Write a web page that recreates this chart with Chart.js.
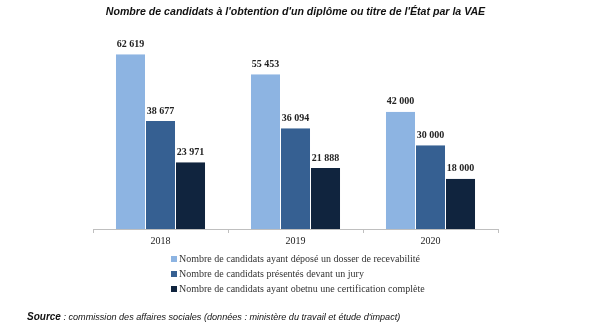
<!DOCTYPE html>
<html><head><meta charset="utf-8">
<script src="https://cdn.jsdelivr.net/npm/chart.js@4.4.0/dist/chart.umd.min.js"></script>
<style>
html,body{margin:0;padding:0;background:#fff;}
#wrap{position:relative;width:600px;height:325px;overflow:hidden;}
canvas{position:absolute;left:0;top:0;}
#legend{position:absolute;left:171px;top:251px;font-family:"Liberation Serif",serif;font-size:10px;color:#333;}
#legend div{height:15px;line-height:15px;white-space:nowrap;}
#legend span.box{display:inline-block;width:6px;height:6px;margin-right:2px;vertical-align:0px;}
#source{position:absolute;left:27px;top:311px;font-family:"Liberation Sans",Arial,sans-serif;font-size:9.1px;font-style:italic;color:#111;white-space:nowrap;}
</style></head>
<body><div id="wrap"><canvas id="c" width="600" height="325"></canvas><div id="legend"></div><div id="source"><b style="font-size:10px">Source</b> : commission des affaires sociales (données : ministère du travail et étude d'impact)</div></div>
<script>
const categories = ["2018", "2019", "2020"];
const seriesNames = [
  "Nombre de candidats ayant déposé un dosser de recevabilité",
  "Nombre de candidats présentés devant un jury",
  "Nombre de candidats ayant obetnu une certification complète"
];
const deposes = [62619, 55453, 42000];
const presentes = [38677, 36094, 30000];
const certifies = [23971, 21888, 18000];
const colors = ["#8DB4E2", "#366092", "#10243E"];
const titleText = "Nombre de candidats à l'obtention d'un diplôme ou titre de l'État par la VAE";

function fmt(v){ return String(v).replace(/\B(?=(\d{3})+(?!\d))/g, " "); }

const labelPlugin = {
  id: 'barLabels',
  afterDatasetsDraw(chart){
    const ctx = chart.ctx;
    ctx.save();
    ctx.font = "bold 10px 'Liberation Serif', serif";
    ctx.fillStyle = "#222";
    ctx.textAlign = "center";
    ctx.textBaseline = "bottom";
    chart.data.datasets.forEach((ds, i) => {
      chart.getDatasetMeta(i).data.forEach((bar, j) => {
        ctx.fillText(fmt(ds.data[j]), bar.x, bar.y - 5);
      });
    });
    ctx.restore();
  }
};

const datasets = [deposes, presentes, certifies].map((d, i) => ({
  label: seriesNames[i], data: d, backgroundColor: colors[i],
  borderColor: "#ffffff", borderWidth: {left:0.5,right:0.5,top:0,bottom:0},
  barPercentage: 1.0, categoryPercentage: 0.667
}));

new Chart(document.getElementById('c'), {
  type: 'bar',
  data: { labels: categories, datasets },
  options: {
    responsive: false, animation: false,
    layout: { padding: { left: 93, right: 102, top: 0, bottom: 76 } },
    plugins: {
      legend: { display: false },
      tooltip: { enabled: false },
      title: { display: true, text: titleText, color: "#111",
        font: { family: "'Liberation Sans', Arial, sans-serif", size: 10.6, weight: 'bold', style: 'italic' },
        padding: { top: 6, bottom: 15 } }
    },
    scales: {
      y: { display: false, min: 0, max: 70000 },
      x: {
        grid: { display: true, drawOnChartArea: false, drawTicks: true, tickLength: 4, color: "#BFBFBF", offset: true },
        border: { display: true, color: "#BFBFBF" },
        ticks: { color: "#222", padding: 2, font: { family: "'Liberation Serif', serif", size: 10 } }
      }
    }
  },
  plugins: [labelPlugin]
});

const lg = document.getElementById('legend');
seriesNames.forEach((n, i) => {
  const d = document.createElement('div');
  const b = document.createElement('span'); b.className = 'box'; b.style.background = colors[i];
  d.appendChild(b); d.appendChild(document.createTextNode(n));
  lg.appendChild(d);
});
</script></body></html>
